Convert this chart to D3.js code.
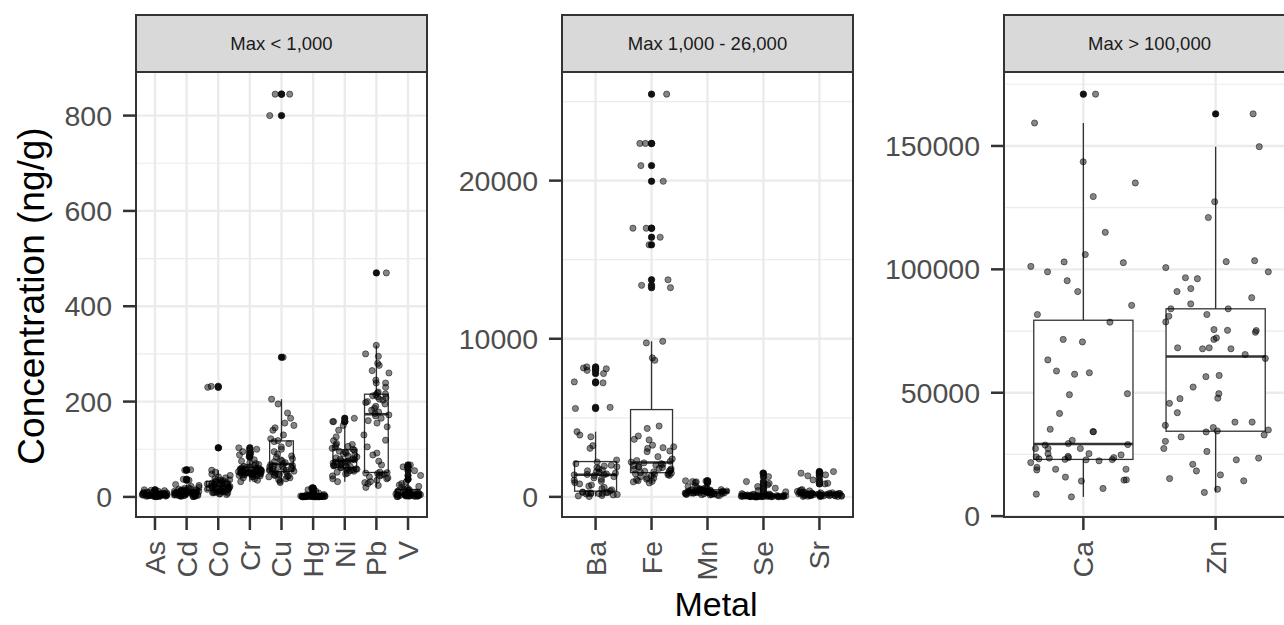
<!DOCTYPE html>
<html>
<head>
<meta charset="utf-8">
<script src="https://cdnjs.cloudflare.com/ajax/libs/d3/7.8.5/d3.min.js"></script>
<style>
  body { margin: 0; background: #fff; }
  text { font-family: "Liberation Sans", Arial, sans-serif; }
</style>
</head>
<body>
<svg id="chart" width="1284" height="625"></svg>
<script>
// facets
var facetLabels = ['Max < 1,000', 'Max 1,000 - 26,000', 'Max > 100,000'];
var facetMetals = [
    ['As', 'Cd', 'Co', 'Cr', 'Cu', 'Hg', 'Ni', 'Pb', 'V'],
    ['Ba', 'Fe', 'Mn', 'Se', 'Sr'],
    ['Ca', 'Zn']
];
var facetTicks = [
    [0, 200, 400, 600, 800],
    [0, 10000, 20000],
    [0, 50000, 100000, 150000]
];

// concentrations (ng/g)
var As = [0.5, 1, 1.2, 1.5, 1.8, 2, 2, 2.2, 2.5, 2.8, 3, 3, 3.2, 3.5, 3.8, 4, 4, 4.2, 4.5, 4.8, 5, 5, 5.3, 5.6, 6, 6.2, 6.5, 7, 7.3, 7.6, 8, 8.5, 9, 9.5, 10, 11, 12, 13, 14, 15, 2.6, 3.4, 1.1, 0.8, 4.4, 5.8, 6.8, 2.3, 3.9, 1.6];
var Cd = [0.5, 1, 1.5, 2, 2.5, 3, 3, 3.5, 4, 4.5, 5, 5.5, 6, 6.5, 7, 7, 7.5, 8, 8, 8.5, 9, 9.5, 10, 10.5, 11, 11.5, 12, 12.5, 13, 13.5, 14, 14.5, 15, 16, 17, 18, 19, 20, 22, 24, 26, 1.2, 2.2, 3.8, 4.8, 6.2, 9.2, 11.8, 13.2, 35, 37, 56, 57, 2.8, 5.2];
var Co = [5, 6, 7, 8, 9, 10, 10, 11, 12, 12, 13, 14, 15, 15, 16, 17, 18, 19, 20, 20, 21, 22, 22, 23, 24, 25, 26, 27, 28, 29, 30, 30, 31, 32, 33, 34, 35, 36, 38, 40, 42, 45, 48, 52, 56, 8.5, 11.5, 14.5, 18.5, 23.5, 27.5, 103, 230, 232];
var Cr = [32, 35, 38, 40, 42, 43, 44, 45, 45, 46, 46, 47, 47, 48, 48, 49, 49, 50, 50, 51, 51, 52, 52, 52, 53, 53, 54, 54, 55, 55, 56, 56, 57, 57, 58, 58, 59, 60, 60, 61, 62, 63, 64, 66, 68, 70, 72, 75, 78, 84, 88, 95, 100, 103, 92, 50, 53];
var Cu = [30, 33, 36, 38, 40, 42, 43, 44, 45, 46, 47, 48, 50, 52, 53, 54, 55, 56, 57, 58, 59, 60, 61, 62, 63, 64, 65, 66, 68, 70, 72, 74, 76, 78, 80, 83, 86, 90, 95, 100, 105, 112, 116, 118, 122, 130, 140, 145, 150, 155, 165, 176, 195, 205, 293, 800, 845, 845];
var Hg = [0.1, 0.2, 0.3, 0.4, 0.5, 0.6, 0.7, 0.8, 0.9, 1, 1.1, 1.2, 1.3, 1.4, 1.5, 1.6, 1.8, 2, 2.2, 2.4, 2.6, 2.8, 3, 3.2, 3.5, 3.8, 4, 4.5, 5, 5.5, 6, 0.3, 0.5, 0.7, 0.9, 1.1, 1.3, 1.5, 1.7, 1.9, 2.1, 0.4, 0.6, 0.8, 1.0, 15, 18, 19, 12, 8];
var Ni = [32, 38, 44, 48, 50, 52, 54, 55, 56, 57, 58, 59, 60, 61, 62, 63, 64, 65, 66, 67, 68, 70, 71, 72, 73, 74, 75, 76, 77, 78, 79, 80, 82, 84, 86, 88, 90, 92, 94, 96, 98, 100, 102, 104, 106, 108, 110, 112, 118, 126, 140, 150, 158, 158, 165];
var Pb = [20, 24, 28, 30, 32, 35, 38, 40, 42, 44, 46, 48, 49, 50, 51, 52, 67, 75, 88, 92, 105, 119, 130, 147, 155, 160, 165, 170, 172, 175, 178, 182, 186, 190, 195, 198, 200, 203, 205, 208, 210, 212, 214, 216, 218, 220, 230, 239, 239, 245, 260, 265, 276, 280, 295, 300, 318, 470];
var V = [0.5, 1, 1.2, 1.5, 1.8, 2, 2.2, 2.5, 2.8, 3, 3.2, 3.5, 3.8, 4, 4.2, 4.5, 4.8, 5, 5.2, 5.5, 6, 6.5, 7, 7.5, 8, 8.5, 9, 10, 11, 12, 13, 14, 15, 16, 18, 20, 22, 25, 1.4, 2.6, 3.6, 4.6, 5.8, 28, 31, 37, 45, 55, 63, 67, 62];

var Ba = [20, 60, 90, 120, 150, 180, 200, 210, 220, 240, 250, 270, 280, 290, 300, 380, 450, 520, 600, 680, 750, 820, 900, 980, 1050, 1120, 1200, 1280, 1350, 1390, 1410, 1420, 1450, 1500, 1550, 1600, 1650, 1700, 1780, 1850, 1900, 1950, 2000, 2100, 2200, 2330, 3070, 3240, 3800, 3910, 4120, 5590, 5660, 7210, 7270, 7800, 8000, 8100, 8150, 8220];
var Fe = [880, 950, 980, 1020, 1080, 1120, 1180, 1220, 1280, 1320, 1360, 1400, 1430, 1460, 1490, 1500, 1540, 1580, 1620, 1650, 1700, 1740, 1770, 1800, 1850, 1880, 1920, 1960, 2000, 2050, 2100, 2150, 2200, 2250, 2300, 2400, 2540, 2860, 2900, 3070, 3110, 3170, 3270, 3600, 3640, 3850, 4330, 4480, 8640, 8790, 9735, 9840, 13230, 13380, 13730, 15940, 16420, 16990, 16990, 19960, 20950, 22350, 22350, 25470];
var Mn = [80, 100, 120, 140, 150, 160, 170, 180, 190, 200, 210, 220, 230, 240, 250, 260, 270, 280, 290, 300, 300, 310, 320, 330, 340, 350, 360, 370, 380, 390, 400, 410, 420, 430, 440, 450, 460, 480, 500, 520, 540, 560, 600, 650, 700, 900, 950, 970, 1000, 1020, 300, 320, 250, 280, 350, 380, 220, 260];
var Se = [0, 0, 5, 5, 10, 10, 15, 15, 20, 20, 25, 25, 30, 30, 35, 40, 45, 50, 55, 60, 65, 70, 75, 80, 85, 90, 95, 100, 110, 120, 130, 140, 150, 160, 180, 200, 8, 12, 18, 22, 28, 33, 38, 42, 48, 52, 320, 400, 550, 650, 760, 850, 970, 1280, 1500];
var Sr = [20, 30, 40, 50, 60, 70, 80, 90, 100, 110, 120, 130, 140, 150, 160, 170, 180, 190, 200, 210, 220, 240, 260, 280, 300, 320, 350, 380, 420, 460, 25, 45, 65, 85, 105, 125, 145, 165, 185, 205, 230, 250, 55, 75, 95, 115, 820, 860, 1070, 1330, 1390, 1500, 1600, 1550];

var Ca = [171000, 159300, 143600, 135000, 129500, 115000, 106000, 101200, 103000, 99000, 95400, 102700, 91000, 85400, 81700, 78600, 71600, 70600, 63300, 58800, 58100, 57500, 49200, 49600, 41600, 34200, 35200, 34200, 30700, 29400, 28800, 27400, 27400, 27400, 24800, 25300, 25300, 23700, 22800, 23000, 21700, 22400, 23700, 19000, 19000, 18700, 19800, 14600, 14700, 15800, 14200, 11200, 7800, 8900, 29000, 23500, 24000, 23200, 22900, 24200];
var Zn = [163000, 149700, 127400, 121000, 103500, 103100, 100700, 99000, 96600, 96200, 92200, 91000, 88500, 86000, 84000, 84000, 81000, 81700, 78700, 75300, 74500, 72200, 75200, 75600, 71600, 68200, 67800, 67800, 68200, 65500, 63900, 57000, 56500, 52300, 49600, 47600, 47800, 45700, 41900, 38100, 38100, 36800, 35900, 34900, 34100, 32900, 34500, 32100, 30300, 27400, 26200, 22800, 21000, 18300, 23500, 16700, 14300, 15200, 10900, 9600];

var values = {
    As: As, Cd: Cd, Co: Co, Cr: Cr, Cu: Cu, Hg: Hg, Ni: Ni, Pb: Pb, V: V,
    Ba: Ba, Fe: Fe, Mn: Mn, Se: Se, Sr: Sr,
    Ca: Ca, Zn: Zn
};

var svg = d3.select('#chart');
var panelLeft = [136, 562, 1004];
var panelWidth = 291;
var stripTop = 15, panelTop = 72, panelBottom = 517;
var dark = '#333333';
var jitter = d3.randomUniform.source(d3.randomLcg(0.3172))(-0.4, 0.4);

function boxStats(v) {
    var s = v.slice().sort(d3.ascending);
    var q1 = d3.quantileSorted(s, 0.25);
    var med = d3.quantileSorted(s, 0.5);
    var q3 = d3.quantileSorted(s, 0.75);
    var iqr = q3 - q1;
    var lo = q1 - 1.5 * iqr, hi = q3 + 1.5 * iqr;
    var inside = s.filter(function (d) { return d >= lo && d <= hi; });
    return {
        q1: q1, med: med, q3: q3,
        wlo: d3.min(inside), whi: d3.max(inside),
        out: s.filter(function (d) { return d < lo || d > hi; })
    };
}

facetLabels.forEach(function (label, f) {
    var metals = facetMetals[f];
    var left = panelLeft[f];
    var all = d3.merge(metals.map(function (m) { return values[m]; }));
    var ext = d3.extent(all);
    var pad = (ext[1] - ext[0]) * 0.05;

    var y = d3.scaleLinear().domain([ext[0] - pad, ext[1] + pad]).range([panelBottom, panelTop + 2]);
    var x = d3.scalePoint().domain(metals).range([left, left + panelWidth]).padding(0.6);
    var step = x.step();

    var g = svg.append('g');

    // minor grid
    var ticks = facetTicks[f];
    var tstep = ticks[1] - ticks[0];
    var minor = [];
    for (var t = ticks[0] - tstep / 2; t <= y.domain()[1]; t += tstep) {
        if (t >= y.domain()[0]) minor.push(t);
    }
    g.selectAll('.minor').data(minor).enter().append('line')
        .attr('x1', left).attr('x2', left + panelWidth)
        .attr('y1', function (d) { return y(d); }).attr('y2', function (d) { return y(d); })
        .attr('stroke', '#ebebeb').attr('stroke-width', 1.2);

    // major grid
    g.selectAll('.major').data(ticks).enter().append('line')
        .attr('x1', left).attr('x2', left + panelWidth)
        .attr('y1', function (d) { return y(d); }).attr('y2', function (d) { return y(d); })
        .attr('stroke', '#ebebeb').attr('stroke-width', 2.4);
    g.selectAll('.vmajor').data(metals).enter().append('line')
        .attr('x1', function (d) { return x(d); }).attr('x2', function (d) { return x(d); })
        .attr('y1', panelTop).attr('y2', panelBottom)
        .attr('stroke', '#ebebeb').attr('stroke-width', 2.4);

    // boxplots
    var bw = step * 0.75;
    metals.forEach(function (m) {
        var s = boxStats(values[m]);
        var cx = x(m);
        var bg = g.append('g');
        bg.append('line').attr('x1', cx).attr('x2', cx)
            .attr('y1', y(s.q3)).attr('y2', y(s.whi))
            .attr('stroke', dark).attr('stroke-width', 1.3);
        bg.append('line').attr('x1', cx).attr('x2', cx)
            .attr('y1', y(s.q1)).attr('y2', y(s.wlo))
            .attr('stroke', dark).attr('stroke-width', 1.3);
        bg.append('rect').attr('x', cx - bw / 2).attr('width', bw)
            .attr('y', y(s.q3)).attr('height', Math.max(0.5, y(s.q1) - y(s.q3)))
            .attr('fill', '#fff').attr('stroke', dark).attr('stroke-width', 1.3);
        bg.append('line').attr('x1', cx - bw / 2).attr('x2', cx + bw / 2)
            .attr('y1', y(s.med)).attr('y2', y(s.med))
            .attr('stroke', dark).attr('stroke-width', 2.6);
        bg.selectAll('circle').data(s.out).enter().append('circle')
            .attr('cx', cx).attr('cy', function (d) { return y(d); })
            .attr('r', 3.2).attr('fill', '#111').attr('stroke', '#111').attr('stroke-width', 0.8);
    });

    // jittered points
    metals.forEach(function (m) {
        g.append('g').selectAll('circle').data(values[m]).enter().append('circle')
            .attr('cx', function () { return x(m) + jitter() * step; })
            .attr('cy', function (d) { return y(d); })
            .attr('r', 3.1)
            .attr('fill', '#000').attr('fill-opacity', 0.48)
            .attr('stroke', '#000').attr('stroke-opacity', 0.48).attr('stroke-width', 1);
    });

    // panel border
    g.append('rect').attr('x', left).attr('y', panelTop)
        .attr('width', panelWidth).attr('height', panelBottom - panelTop)
        .attr('fill', 'none').attr('stroke', dark).attr('stroke-width', 2);

    // strip
    g.append('rect').attr('x', left).attr('y', stripTop)
        .attr('width', panelWidth).attr('height', panelTop - stripTop)
        .attr('fill', '#d9d9d9').attr('stroke', dark).attr('stroke-width', 2);
    g.append('text').attr('x', left + panelWidth / 2).attr('y', (stripTop + panelTop) / 2)
        .attr('dy', '0.35em').attr('text-anchor', 'middle')
        .attr('font-size', 18.5).attr('fill', '#1a1a1a').text(label);

    // y axis
    g.selectAll('.ytick').data(ticks).enter().append('line')
        .attr('x1', left - 13).attr('x2', left)
        .attr('y1', function (d) { return y(d); }).attr('y2', function (d) { return y(d); })
        .attr('stroke', dark).attr('stroke-width', 2.5);
    g.selectAll('.ylab').data(ticks).enter().append('text')
        .attr('x', left - 24).attr('y', function (d) { return y(d); })
        .attr('dy', '0.35em').attr('text-anchor', 'end')
        .attr('font-size', 28.5).attr('fill', '#4d4d4d')
        .text(function (d) { return d; });

    // x axis
    g.selectAll('.xtick').data(metals).enter().append('line')
        .attr('x1', function (d) { return x(d); }).attr('x2', function (d) { return x(d); })
        .attr('y1', panelBottom).attr('y2', panelBottom + 13)
        .attr('stroke', dark).attr('stroke-width', 2.5);
    g.selectAll('.xlab').data(metals).enter().append('text')
        .attr('transform', function (d) { return 'translate(' + x(d) + ',' + (panelBottom + 24) + ') rotate(-90)'; })
        .attr('dy', '0.35em').attr('text-anchor', 'end')
        .attr('font-size', 28.5).attr('fill', '#4d4d4d')
        .text(function (d) { return d; });
});

// axis titles
svg.append('text')
    .attr('transform', 'translate(44,296) rotate(-90)')
    .attr('text-anchor', 'middle').attr('font-size', 37).attr('fill', '#000')
    .text('Concentration (ng/g)');
svg.append('text')
    .attr('x', 716).attr('y', 616)
    .attr('text-anchor', 'middle').attr('font-size', 34).attr('fill', '#000')
    .text('Metal');
</script>
</body>
</html>
